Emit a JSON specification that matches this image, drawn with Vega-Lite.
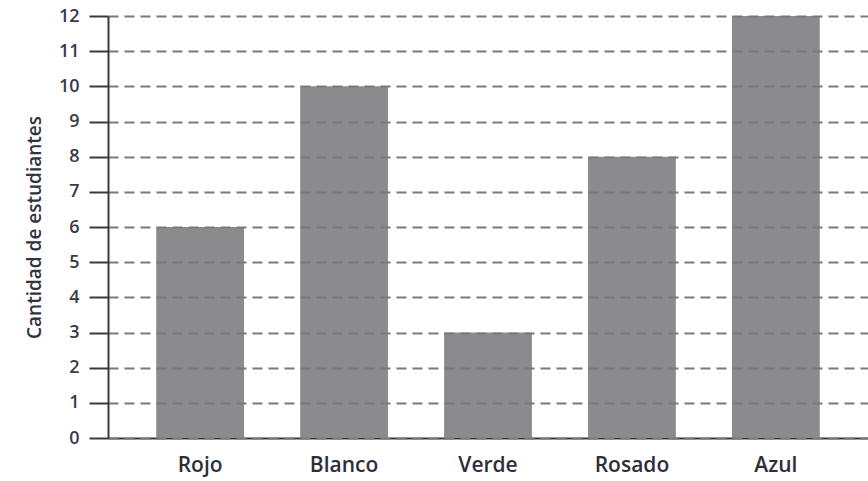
{
  "$schema": "https://vega.github.io/schema/vega-lite/v6.json",
  "autosize": "none",
  "padding": {"left": 108, "top": 16, "right": 0, "bottom": 43},
  "width": 760,
  "height": 422,
  "background": "white",
  "data": {"values": [
    {"color": "Rojo", "n": 6},
    {"color": "Blanco", "n": 10},
    {"color": "Verde", "n": 3},
    {"color": "Rosado", "n": 8},
    {"color": "Azul", "n": 12}
  ]},
  "mark": {"type": "bar", "color": "#8b8b8e"},
  "encoding": {
    "x": {
      "field": "color", "type": "nominal", "sort": null,
      "scale": {"paddingInner": 0.39, "paddingOuter": 0.335},
      "axis": {
        "title": null, "labelAngle": 0, "ticks": false,
        "labelFont": "Open Sans", "labelFontSize": 21, "labelFontWeight": 600, "labelColor": "#2e2e3a",
        "labelPadding": 16, "domainColor": "#3a3a3a", "domainWidth": 2
      }
    },
    "y": {
      "field": "n", "type": "quantitative",
      "scale": {"domain": [0, 12], "nice": false},
      "axis": {
        "title": "Cantidad de estudiantes", "titleFont": "Open Sans", "titleFontSize": 19,
        "titleFontWeight": 600, "titleColor": "#333340", "titlePadding": 14,
        "values": [0,1,2,3,4,5,6,7,8,9,10,11,12],
        "labelFont": "Open Sans", "labelFontSize": 18, "labelFontWeight": 600, "labelColor": "#3a3a48",
        "labelPadding": 10,
        "tickSize": 19, "tickColor": "#3a3a3a", "tickWidth": 2,
        "domainColor": "#3a3a3a", "domainWidth": 2,
        "grid": true, "gridColor": "#7a7a7a", "gridWidth": 2, "gridDash": [10, 6], "gridOpacity": 1,
        "zindex": 1
      }
    }
  },
  "config": {"view": {"stroke": null}}
}
